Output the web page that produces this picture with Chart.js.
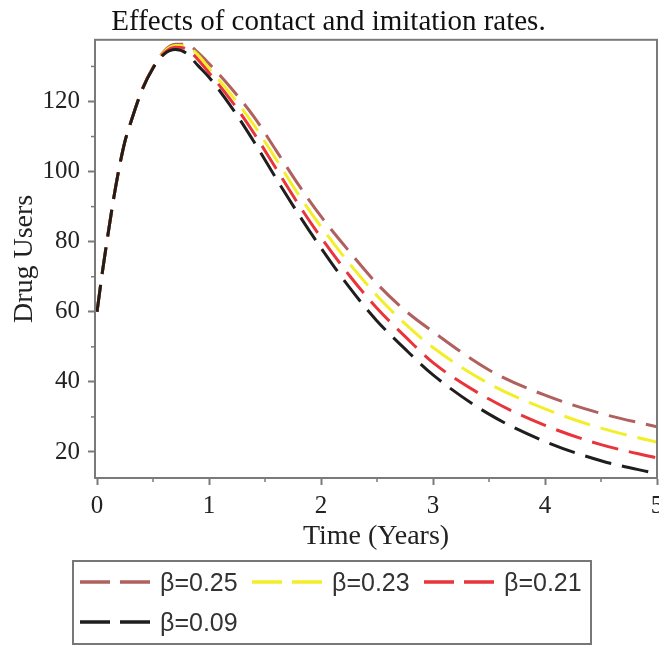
<!DOCTYPE html>
<html>
<head>
<meta charset="utf-8">
<script src="https://cdn.jsdelivr.net/npm/chart.js@4/dist/chart.umd.min.js"></script>
<style>
  html, body { margin: 0; padding: 0; background: #fff; }
  #wrap { position: relative; width: 659px; height: 645px; }
  #legend { position: absolute; left: 72px; top: 560px; width: 516px; height: 81px;
            border: 2px solid #777; box-sizing: content-box; }
  .item { position: absolute; height: 30px; }
  .item svg { position: absolute; left: 0; top: 0; }
  .item span { position: absolute; left: 80px; top: 0; line-height: 30px;
               font-family: "Liberation Sans", Arial, sans-serif; font-size: 25px; color: #333; white-space: nowrap; }
</style>
</head>
<body>
<div id="wrap">
  <canvas id="c" width="659" height="645"></canvas>
  <div id="legend"></div>
</div>
<script>
// ---- data ----
const timeYears = [0,0.05,0.1,0.15,0.2,0.25,0.3,0.4,0.5,0.6,0.7,0.8,0.9,1.0,1.2,1.4,1.6,1.8,2.0,2.25,2.5,2.75,3.0,3.5,4.0,4.5,5.0];
const usersBeta025 = [60,71.8,82.5,92.6,101.4,108.7,113.9,123.2,129.7,134.4,136.3,136.3,134.0,130.8,123.7,115.7,106.0,96.2,87.2,77.3,68.0,60.4,54.3,43.4,36.2,31.0,27.2];
const usersBeta023 = [60,71.8,82.5,92.6,101.4,108.7,113.9,123.2,129.7,134.2,136.0,135.8,133.3,129.5,121.9,113.3,103.5,93.4,84.3,73.9,64.6,56.6,49.8,39.5,32.3,26.8,22.8];
const usersBeta021 = [60,71.8,82.5,92.6,101.4,108.7,113.9,123.2,129.6,133.9,135.5,135.0,132.0,128.2,120.2,111.0,100.8,90.6,81.2,70.5,61.0,53.0,45.5,35.1,27.6,22.1,18.3];
const usersBeta009 = [60,71.8,82.5,92.6,101.4,108.7,113.9,123.1,129.5,133.5,134.8,133.7,130.3,126.9,118.4,108.6,98.0,87.8,78.2,67.1,57.4,49.4,42.0,30.8,23.0,17.5,13.8];
const seriesLabels = ['β=0.25','β=0.23','β=0.21','β=0.09'];
const seriesColors = ['#b0605f','#f2ee2a','#e8343a','#1e1e1e'];
const yTickLabels = [20,40,60,80,100,120];
const xTickLabels = [0,1,2,3,4,5];
const titleText = 'Effects of contact and imitation rates.';
const xTitle = 'Time (Years)';
const yTitle = 'Drug Users';

const allSeries = [usersBeta025, usersBeta023, usersBeta021, usersBeta009];
const dash = [27, 11];

const datasets = allSeries.map((vals, i) => ({
  label: seriesLabels[i],
  data: vals.map((v, k) => ({ x: timeYears[k], y: v })),
  borderColor: seriesColors[i],
  backgroundColor: seriesColors[i],
  borderWidth: 3,
  borderDash: dash,
  pointRadius: 0,
  fill: false,
  cubicInterpolationMode: 'monotone',
  order: 4 - i
}));

const AXIS = '#7a7a7a';
const serif = '"Liberation Serif", "Times New Roman", serif';

const framePlugin = {
  id: 'frame',
  afterDraw(chart) {
    const { ctx, chartArea: a } = chart;
    ctx.save();
    ctx.strokeStyle = AXIS;
    ctx.lineWidth = 2;
    ctx.strokeRect(a.left, a.top, a.right - a.left, a.bottom - a.top);
    const xs = chart.scales.x, ys = chart.scales.y;
    ctx.lineWidth = 1.5;
    ys.ticks.forEach(t => {
      if (!yTickLabels.includes(Math.round(t.value))) {
        const p = ys.getPixelForValue(t.value);
        ctx.beginPath(); ctx.moveTo(a.left - 4, p); ctx.lineTo(a.left, p); ctx.stroke();
      }
    });
    xs.ticks.forEach(t => {
      if (!xTickLabels.includes(t.value)) {
        const p = xs.getPixelForValue(t.value);
        ctx.beginPath(); ctx.moveTo(p, a.bottom); ctx.lineTo(p, a.bottom + 4); ctx.stroke();
      }
    });
    ctx.restore();
  }
};

const chart = new Chart(document.getElementById('c'), {
  type: 'line',
  data: { datasets },
  options: {
    responsive: false,
    animation: false,
    devicePixelRatio: 1,
    layout: { padding: { left: 0, right: 2, top: 0, bottom: 92 } },
    plugins: {
      legend: { display: false },
      tooltip: { enabled: false },
      title: {
        display: true, text: titleText, color: '#111',
        font: { family: serif, size: 29, weight: 'normal' },
        padding: { top: 5, bottom: 0 }
      }
    },
    scales: {
      x: {
        type: 'linear', min: -0.018, max: 5,
        afterFit(s) { s.height = 75; s.paddingLeft = 0; s.paddingRight = 0; },
        border: { display: true, color: AXIS, width: 2 },
        grid: {
          drawOnChartArea: false, drawTicks: true, tickLength: 7,
          tickColor: c => (c.tick && xTickLabels.includes(c.tick.value)) ? AXIS : 'rgba(0,0,0,0)',
          tickWidth: 2
        },
        ticks: {
          stepSize: 0.5, includeBounds: false, autoSkip: false, maxRotation: 0, padding: 6,
          color: '#222', font: { family: serif, size: 25 },
          callback: v => xTickLabels.includes(v) ? String(v) : ''
        },
        title: { display: true, text: xTitle, color: '#222', font: { family: serif, size: 28 }, padding: { top: 0, bottom: 0 } }
      },
      y: {
        type: 'linear', min: 12.58, max: 137.6,
        afterFit(s) { s.width = 95; s.paddingTop = 0; s.paddingBottom = 0; },
        border: { display: true, color: AXIS, width: 2 },
        grid: {
          drawOnChartArea: false, drawTicks: true, tickLength: 7,
          tickColor: c => (c.tick && yTickLabels.includes(Math.round(c.tick.value))) ? AXIS : 'rgba(0,0,0,0)',
          tickWidth: 2
        },
        ticks: {
          stepSize: 10, includeBounds: false, autoSkip: false, padding: 8,
          color: '#222', font: { family: serif, size: 25 },
          callback: v => yTickLabels.includes(Math.round(v)) ? String(Math.round(v)) : ''
        },
        title: { display: true, text: yTitle, color: '#222', font: { family: serif, size: 28 }, padding: { top: 8, bottom: 0 } }
      }
    }
  },
  plugins: [framePlugin]
});

const legend = document.getElementById('legend');
datasets.forEach((d, i) => {
  const col = i % 3, row = Math.floor(i / 3);
  const el = document.createElement('div');
  el.className = 'item';
  el.style.left = (6 + col * 172) + 'px';
  el.style.top = (5 + row * 40) + 'px';
  el.innerHTML = '<svg width="72" height="30"><line x1="0" y1="15" x2="70" y2="15" stroke="' + d.borderColor +
    '" stroke-width="3.5" stroke-dasharray="30,10"/></svg><span>' + d.label + '</span>';
  legend.appendChild(el);
});
</script>
</body>
</html>
